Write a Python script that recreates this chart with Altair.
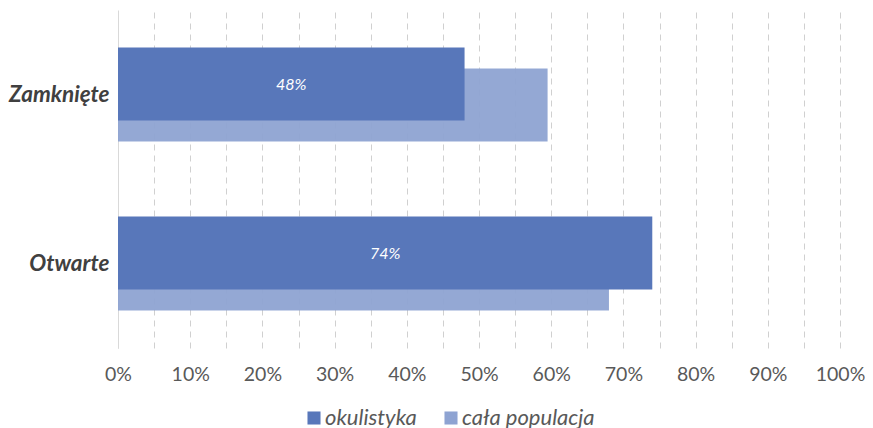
import altair as alt
import pandas as pd

categories = ["Zamknięte", "Otwarte"]
series = ["okulistyka", "cała populacja"]
okulistyka = [0.48, 0.74]
cala_populacja = [0.595, 0.68]

rows = []
for c, v in zip(categories, okulistyka):
    rows.append({"kat": c, "seria": series[0], "wartosc": v})
for c, v in zip(categories, cala_populacja):
    rows.append({"kat": c, "seria": series[1], "wartosc": v})
df = pd.DataFrame(rows)

DARK = "#5877BA"
LIGHT = "#8EA3D2"
FONT = "Lato"

grid_vals = [i / 20 for i in range(21)]

x_scale = alt.Scale(domain=[0, 1], nice=False, zero=True)
x_axis = alt.Axis(
    values=grid_vals,
    labelExpr="round(datum.value*20) % 2 == 0 ? format(datum.value, '.0%') : ''",
    grid=True,
    gridDash=[6, 5],
    gridColor="#D0D0D0",
    gridWidth=1,
    domain=False,
    ticks=False,
    labelFlush=False,
    labelOverlap=False,
    labelFont=FONT,
    labelFontSize=19.5,
    labelColor="#595959",
    labelPadding=17,
    title=None,
)
y_scale = alt.Scale(paddingInner=0, paddingOuter=0)
y_axis = alt.Axis(
    title=None,
    ticks=False,
    domain=True,
    domainColor="#D9D9D9",
    domainWidth=1,
    labelFont=FONT,
    labelFontSize=22.5,
    labelFontWeight="bold",
    labelFontStyle="italic",
    labelColor="#404040",
    labelPadding=9,
)
x_enc = alt.X("wartosc:Q", scale=x_scale, axis=x_axis)
y_enc = alt.Y("kat:N", sort=categories, scale=y_scale, axis=y_axis)
color_enc = alt.Color(
    "seria:N",
    scale=alt.Scale(domain=series, range=[DARK, LIGHT]),
    legend=alt.Legend(
        title=None,
        orient="none",
        direction="horizontal",
        legendX=185,
        legendY=397,
        symbolType="square",
        symbolSize=170,
        symbolOpacity=1,
        labelFont=FONT,
        labelFontSize=22,
        labelFontStyle="italic",
        labelColor="#595959",
        columnPadding=23,
        labelOffset=0,
    ),
)

base = alt.Chart(df)

light = base.transform_filter(alt.datum.seria == series[1]).mark_bar(
    size=73, yOffset=10.5, opacity=0.95
).encode(x=x_enc, y=y_enc, color=color_enc)

dark = base.transform_filter(alt.datum.seria == series[0]).mark_bar(
    size=73, yOffset=-10.5
).encode(x=x_enc, y=y_enc, color=color_enc)

labels = base.transform_filter(alt.datum.seria == series[0]).transform_calculate(
    mid="datum.wartosc / 2"
).mark_text(
    yOffset=-9.5, color="white", font=FONT, fontSize=16, fontStyle="italic"
).encode(
    x=alt.X("mid:Q", scale=x_scale, axis=x_axis),
    y=alt.Y("kat:N", sort=categories, scale=y_scale, axis=y_axis),
    text=alt.Text("wartosc:Q", format=".0%"),
)

chart = alt.layer(light, dark, labels).properties(
    width=722,
    height=338,
    autosize=alt.AutoSizeParams(type="none"),
    padding={"left": 110, "top": 2, "right": 25, "bottom": 80},
).configure_view(stroke=None)

chart.save("out.html", embed_options={"renderer": "svg", "actions": False})
